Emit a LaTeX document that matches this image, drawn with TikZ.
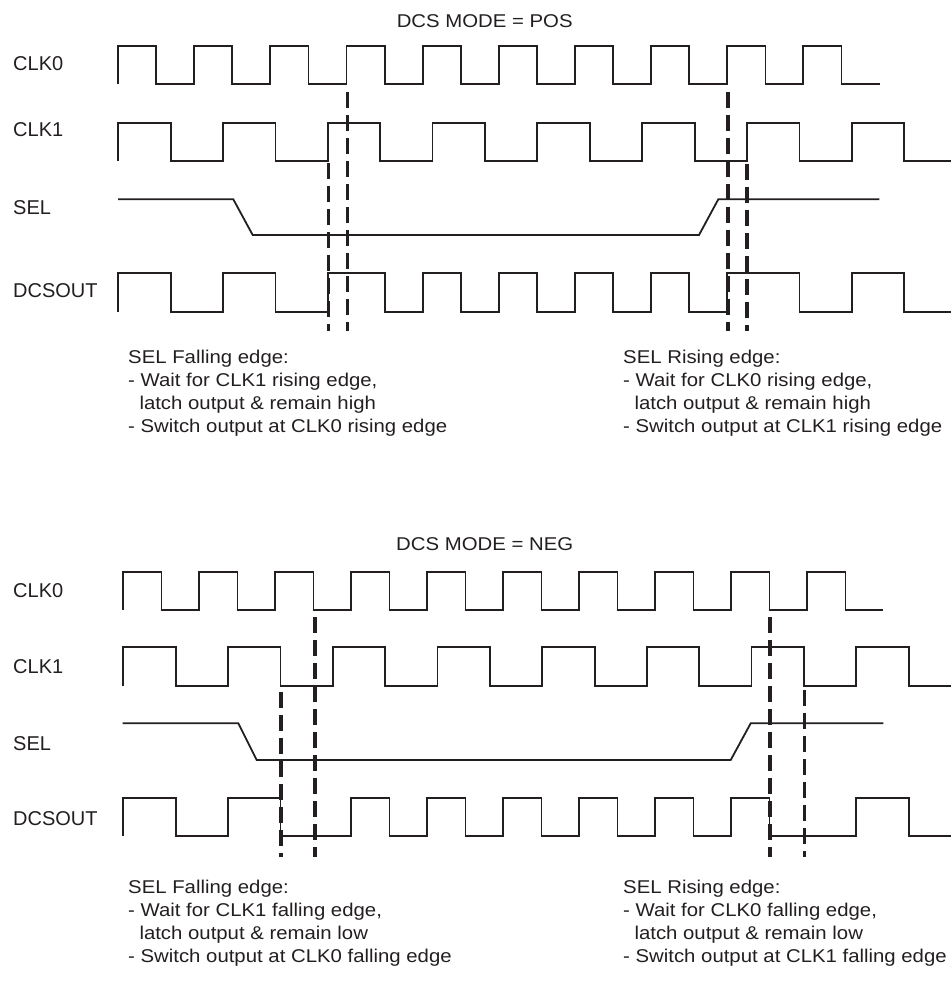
\documentclass[tikz,border=0pt]{standalone}
\usepackage{fontspec}
\setmainfont{Liberation Sans}
\newfontfamily\descfont[FakeStretch=1.1]{Liberation Sans}
\definecolor{ink}{HTML}{231F20}
\begin{document}
\begin{tikzpicture}[x=1pt,y=-1pt,
  wave/.style={draw=ink,line width=1.8pt,line join=miter},
  guide/.style={draw=ink,line width=3.6pt,dash pattern=on 16pt off 7pt},
  sig/.style={anchor=west,text=ink,font=\fontsize{20}{24}\selectfont,inner sep=0pt},
  ttl/.style={anchor=base,text=ink,font=\descfont\fontsize{18.5}{22}\selectfont,inner sep=0pt},
  desc/.style={anchor=north west,text=ink,align=left,font=\descfont\fontsize{18.5}{23}\selectfont,inner sep=0pt}]
\useasboundingbox (0,0) rectangle (951,982);
\fill[white] (0,0) rectangle (951,982);

% ================= TOP: POS =================
\node[ttl] (t1) at (484.7,28) {DCS MODE = POS};
\node[sig] (l1a) at (13,64) {CLK0};
\node[sig] (l1b) at (13,130) {CLK1};
\node[sig] (l1c) at (13,208) {SEL};
\node[sig] (l1d) at (13,291) {DCSOUT};

% CLK0
\draw[wave] (118,84) foreach \k in {0,...,9} {
  -- ({118+76.15*\k},84) -- ({118+76.15*\k},46) -- ({156.2+76.15*\k},46) -- ({156.2+76.15*\k},84)}
  -- (879.5,84);
% CLK1
\draw[wave] (118,160.7) foreach \k in {0,...,7} {
  -- ({118+104.8*\k},160.7) -- ({118+104.8*\k},123.3) -- ({170.6+104.8*\k},123.3) -- ({170.6+104.8*\k},160.7)}
  -- (951,160.7);
% SEL
\draw[wave] (118,199.3) -- (233.3,199.3) -- (252.7,235) -- (699,235) -- (718.3,199.3) -- (879.3,199.3);
% DCSOUT
\draw[wave] (118,311.7) -- (118,273.3) -- (170.6,273.3) -- (170.6,311.7) -- (222.8,311.7) -- (222.8,273.3)
  -- (275.4,273.3) -- (275.4,311.7) -- (327.6,311.7) -- (327.6,273.3) -- (384.65,273.3) -- (384.65,311.7)
  -- (422.6,311.7) -- (422.6,273.3) -- (460.8,273.3) -- (460.8,311.7)
  -- (498.75,311.7) -- (498.75,273.3) -- (536.95,273.3) -- (536.95,311.7)
  -- (574.9,311.7) -- (574.9,273.3) -- (613.1,273.3) -- (613.1,311.7)
  -- (651.05,311.7) -- (651.05,273.3) -- (689.25,273.3) -- (689.25,311.7)
  -- (727.2,311.7) -- (727.2,273.3) -- (799.4,273.3) -- (799.4,311.7)
  -- (851.6,311.7) -- (851.6,273.3) -- (904.2,273.3) -- (904.2,311.7) -- (951,311.7);

% guides
\coordinate (g1a) at (328.6,163); \coordinate (g1ae) at (328.6,331);
\coordinate (g1b) at (347.5,92);  \coordinate (g1be) at (347.5,331);
\coordinate (g1c) at (727.7,92);  \coordinate (g1ce) at (727.7,331);
\coordinate (g1d) at (746.8,164); \coordinate (g1de) at (746.8,331);
\draw[guide] (g1a) -- (g1ae);
\draw[guide] (g1b) -- (g1be);
\draw[guide] (g1c) -- (g1ce);
\draw[guide] (g1d) -- (g1de);

\node[desc] (d1a) at (128,350) {SEL Falling edge:\\- Wait for CLK1 rising edge,\\\ \ latch output \& remain high\\- Switch output at CLK0 rising edge};
\node[desc] (d1b) at (623,350) {SEL Rising edge:\\- Wait for CLK0 rising edge,\\\ \ latch output \& remain high\\- Switch output at CLK1 rising edge};

% ================= BOTTOM: NEG =================
\node[ttl] (t2) at (484.7,550) {DCS MODE = NEG};
\node[sig] (l2a) at (13,591) {CLK0};
\node[sig] (l2b) at (13,667) {CLK1};
\node[sig] (l2c) at (13,744) {SEL};
\node[sig] (l2d) at (13,819) {DCSOUT};

% CLK0
\draw[wave] (123.3,610) foreach \k in {0,...,9} {
  -- ({123.3+76*\k},610) -- ({123.3+76*\k},571.7) -- ({161.5+76*\k},571.7) -- ({161.5+76*\k},610)}
  -- (883.3,610);
% CLK1
\draw[wave] (123.3,686) foreach \k in {0,...,7} {
  -- ({123.3+104.7*\k},686) -- ({123.3+104.7*\k},647.3) -- ({175.8+104.7*\k},647.3) -- ({175.8+104.7*\k},686)}
  -- (951,686);
% SEL
\draw[wave] (122.7,723.3) -- (238.3,723.3) -- (256.7,760) -- (730.7,760) -- (750.7,723.3) -- (883.3,723.3);
% DCSOUT
\draw[wave] (123.3,836) -- (123.3,797.7) -- (175.8,797.7) -- (175.8,836) -- (228,836) -- (228,797.7)
  -- (280.5,797.7) -- (280.5,836) -- (351.3,836) -- (351.3,797.7) -- (389.5,797.7) -- (389.5,836)
  -- (427.3,836) -- (427.3,797.7) -- (465.5,797.7) -- (465.5,836)
  -- (503.3,836) -- (503.3,797.7) -- (541.5,797.7) -- (541.5,836)
  -- (579.3,836) -- (579.3,797.7) -- (617.5,797.7) -- (617.5,836)
  -- (655.3,836) -- (655.3,797.7) -- (693.5,797.7) -- (693.5,836)
  -- (731.3,836) -- (731.3,797.7) -- (769.5,797.7) -- (769.5,836)
  -- (856.2,836) -- (856.2,797.7) -- (908.7,797.7) -- (908.7,836) -- (951,836);

% guides
\coordinate (g2a) at (281,692);  \coordinate (g2ae) at (281,857);
\coordinate (g2b) at (315,617);  \coordinate (g2be) at (315,857);
\coordinate (g2c) at (770,617);  \coordinate (g2ce) at (770,857);
\coordinate (g2d) at (804.5,690); \coordinate (g2de) at (804.5,857);
\draw[guide] (g2a) -- (g2ae);
\draw[guide] (g2b) -- (g2be);
\draw[guide] (g2c) -- (g2ce);
\draw[guide] (g2d) -- (g2de);

\node[desc] (d2a) at (128,880) {SEL Falling edge:\\- Wait for CLK1 falling edge,\\\ \ latch output \& remain low\\- Switch output at CLK0 falling edge};
\node[desc] (d2b) at (623,880) {SEL Rising edge:\\- Wait for CLK0 falling edge,\\\ \ latch output \& remain low\\- Switch output at CLK1 falling edge};
\end{tikzpicture}
\end{document}
